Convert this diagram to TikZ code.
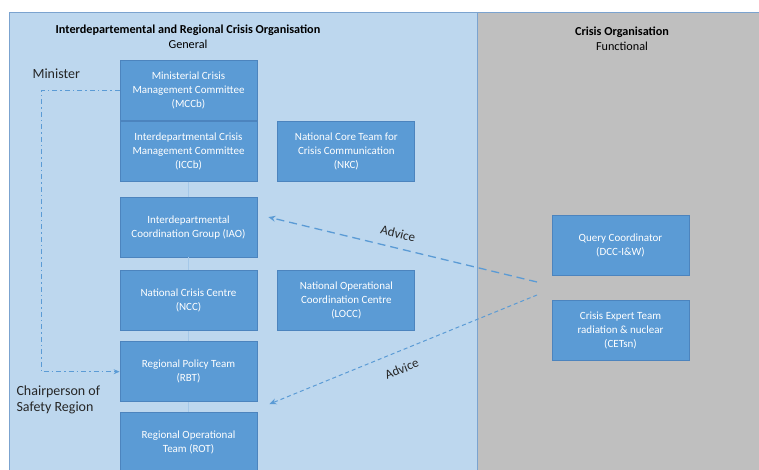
\documentclass[tikz,border=0pt]{standalone}
\usepackage{fontspec}
\setmainfont{Carlito}
\usetikzlibrary{arrows.meta,positioning,calc}
\definecolor{panelblue}{HTML}{BDD7EE}
\definecolor{panelline}{HTML}{7BA3CF}
\definecolor{panelgray}{HTML}{BFBFBF}
\definecolor{boxblue}{HTML}{5B9BD5}
\definecolor{boxline}{HTML}{4C84BE}
\definecolor{linkblue}{HTML}{5B9BD5}

\begin{document}
\begin{tikzpicture}[x=1pt,y=1pt,
    box/.style={draw=boxline,line width=0.8pt,fill=boxblue,text=white,minimum width=137pt,
      minimum height=60pt,align=center,inner sep=2pt,font=\fontsize{11}{14}\selectfont},
    head/.style={align=center,font=\fontsize{12.2}{15}\selectfont},
    side/.style={anchor=west,align=left,font=\fontsize{14}{15.5}\selectfont,text=black!85},
    link/.style={draw=linkblue!55,line width=0.8pt},
    chain/.style={-{Stealth[length=6pt,width=5pt]},draw=linkblue,line width=0.9pt,
      dash pattern=on 5pt off 3pt on 1.5pt off 3pt},
    advice/.style={-{Stealth[length=7pt,width=6pt]},draw=linkblue,line width=1.3pt,
      dash pattern=on 8pt off 5pt},
    lbl/.style={font=\fontsize{13}{15}\selectfont,text=black!85,sloped}]
  \useasboundingbox (0,0) rectangle (759,470);
  % panels
  \fill[panelblue] (9,0) rectangle (477,457);
  \fill[panelgray] (477,0) rectangle (759,457);
  \draw[panelline,line width=1pt] (9,0) -- (9,457) -- (759,457);
  \draw[panelline,line width=1pt] (477,0) -- (477,457);

  % headings
  \node[head] (hgen) at (188,433) {\textbf{Interdepartemental and Regional Crisis Organisation}\\General};
  \node[head] (hfun) at (622,431) {\textbf{Crisis Organisation}\\Functional};
  \node[side] (minister) at (29,396) {Minister};
  \node[side] (chair) at (13,70) {Chairperson of\\Safety Region};

  % general column
  \node[box] (mccb) at (188.5,379.5) {Ministerial Crisis\\Management Committee\\(MCCb)};
  \node[box,below=0pt of mccb] (iccb) {Interdepartmental Crisis\\Management Committee\\(ICCb)};
  \node[box,below=15pt of iccb] (iao) {Interdepartmental\\Coordination Group (IAO)};
  \node[box,below=13pt of iao] (ncc) {National Crisis Centre\\(NCC)};
  \node[box,below=10pt of ncc] (rbt) {Regional Policy Team\\(RBT)};
  \node[box,below=10pt of rbt] (rot) {Regional Operational\\Team (ROT)};
  \node[box,right=20pt of iccb] (nkc) {National Core Team for\\Crisis Communication\\(NKC)};
  \node[box,right=20pt of ncc] (locc) {National Operational\\Coordination Centre\\(LOCC)};

  % functional column
  \node[box] (dcc) at (620.5,225) {Query Coordinator\\(DCC-I\&W)};
  \node[box,below=25pt of dcc] (cet) {Crisis Expert Team\\radiation \& nuclear\\(CETsn)};

  % links
  \draw[link] (iccb) -- (iao);
  \draw[link] (iao) -- (ncc);
  \draw[link] (ncc) -- (rbt);
  \draw[link] (rbt) -- (rot);

  \coordinate (corner) at (41,0);
  \draw[chain] (mccb.west) -- (mccb.west -| corner) |- (rbt.west);

  \coordinate (src1) at (537,188);
  \coordinate (src2) at (537,175);
  \draw[advice] (src1) -- node[lbl,above=6pt,pos=0.53] {Advice} ([xshift=11pt,yshift=10pt]iao.east);
  \draw[advice,line width=1pt,dash pattern=on 4pt off 3pt] (src2) -- node[lbl,below=9pt,pos=0.53] {Advice} ([xshift=12pt,yshift=8pt]rot.north east);
\end{tikzpicture}
\end{document}
